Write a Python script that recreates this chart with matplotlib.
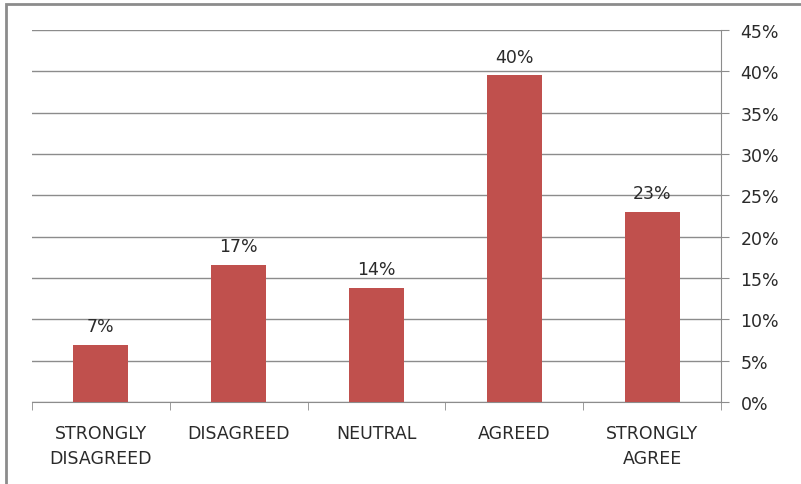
import numpy as np
import matplotlib.pyplot as plt
from matplotlib.patches import Rectangle
from matplotlib.ticker import FuncFormatter

categories = ['STRONGLY\nDISAGREED', 'DISAGREED', 'NEUTRAL', 'AGREED', 'STRONGLY\nAGREE']
values = [6.9, 16.6, 13.8, 39.5, 23.0]
labels = ['7%', '17%', '14%', '40%', '23%']

plt.rcParams['font.family'] = ['DejaVu Sans']

W, H = 801, 485
fig = plt.figure(figsize=(W / 100, H / 100), dpi=100)
ax = fig.add_axes([32 / W, 1 - 403 / H, (721 - 32) / W, (403 - 31) / H])

fs = 12.5
x = np.arange(len(categories))
ax.bar(x, values, width=0.4, color='#C0504D', zorder=3)
for xi, v, lab in zip(x, values, labels):
    ax.text(xi, v + 1.2, lab, ha='center', va='bottom', fontsize=fs, color='#2a2a2a')

ax.set_xlim(-0.5, len(categories) - 0.5)
ax.set_ylim(0, 45)
ax.set_yticks(np.arange(0, 46, 5))
ax.yaxis.set_major_formatter(FuncFormatter(lambda v, p: f'{v:.0f}%'))
ax.yaxis.tick_right()
ax.grid(axis='y', color='#8c8c8c', linewidth=1, zorder=0)

ax.set_xticks(x)
ax.set_xticklabels(categories, fontsize=fs, color='#2a2a2a', linespacing=1.45)
ax.set_xticks(np.arange(-0.5, len(categories), 1), minor=True)
ax.tick_params(axis='x', which='major', length=0, pad=16)
ax.tick_params(axis='x', which='minor', length=6, color='#8c8c8c')
ax.tick_params(axis='y', length=6, color='#8c8c8c', labelsize=fs, labelcolor='#2a2a2a', pad=8)

for s in ['top', 'left']:
    ax.spines[s].set_visible(False)
ax.spines['bottom'].set_color('#8c8c8c')
ax.spines['right'].set_color('#8c8c8c')

fig.patches.append(Rectangle((6 / W, -0.1), 1.2, 1 - 5 / H + 0.1, transform=fig.transFigure,
                             fill=False, edgecolor='#8c8c8c', linewidth=2))

fig.savefig('out.png', dpi=100)
